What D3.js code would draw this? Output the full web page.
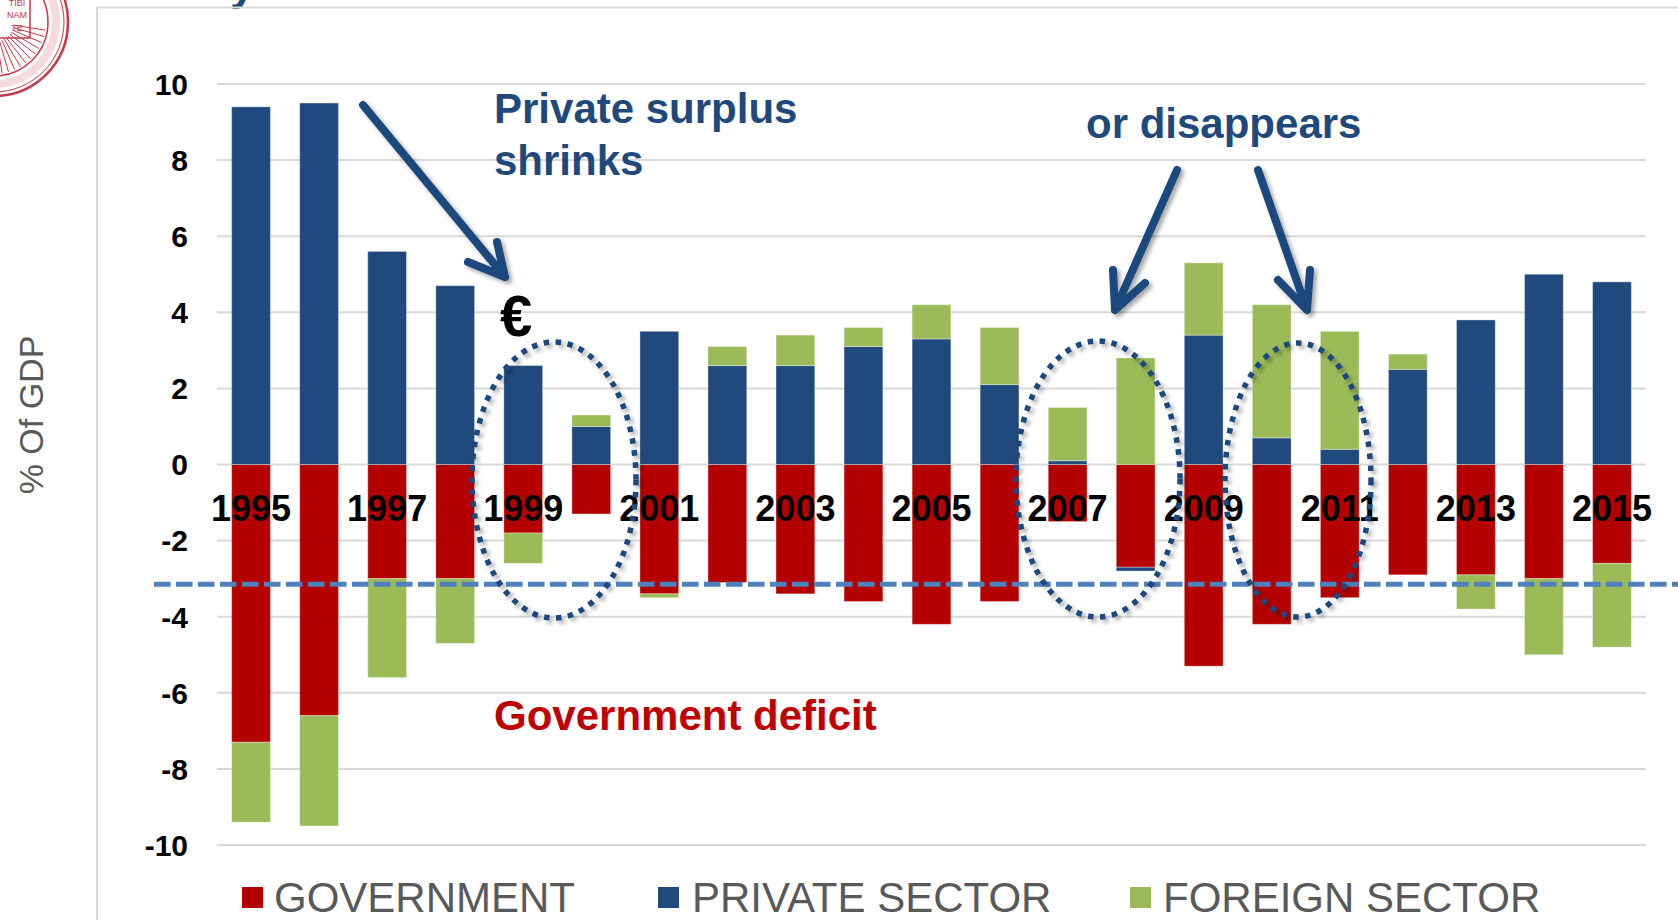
<!DOCTYPE html>
<html>
<head>
<meta charset="utf-8">
<script src="https://cdn.jsdelivr.net/npm/d3@7"></script>
<style>
  html, body { margin: 0; padding: 0; background: #fff; }
  svg { display: block; font-family: "Liberation Sans", Arial, sans-serif; }
</style>
</head>
<body>
<svg id="chart" width="1678" height="920"></svg>
<script>
// Sectoral balances, % of GDP
const years = d3.range(1995, 2016);
const government = [-7.3, -6.6, -3.0, -3.0, -1.8, -1.3, -3.4, -3.1, -3.4, -3.6, -4.2, -3.6, -1.5, -2.7, -5.3, -4.2, -3.5, -2.9, -2.9, -3.0, -2.6];
const privateSector = [9.4, 9.5, 5.6, 4.7, 2.6, 1.0, 3.5, 2.6, 2.6, 3.1, 3.3, 2.1, 0.1, -0.1, 3.4, 0.7, 0.4, 2.5, 3.8, 5.0, 4.8];
const foreignSector = [-2.1, -2.9, -2.6, -1.7, -0.8, 0.3, -0.1, 0.5, 0.8, 0.5, 0.9, 1.5, 1.4, 2.8, 1.9, 3.5, 3.1, 0.4, -0.9, -2.0, -2.2];
const yTicks = [-10, -8, -6, -4, -2, 0, 2, 4, 6, 8, 10];
const seriesNames = ['GOVERNMENT', 'PRIVATE SECTOR', 'FOREIGN SECTOR'];
const threshold = -3.15; // the dashed reference line

const colors = { gov: '#B50000', priv: '#204A7D', foreign: '#9BBB59' };
const annotBlue = '#1F497D';
const sealRed = '#c8374a';

const svg = d3.select('#chart');

const rows = years.map((y, i) => ({
  year: y, gov: government[i], priv: privateSector[i], foreign: foreignSector[i]
}));

const x = d3.scaleBand()
  .domain(years)
  .range([217, 1646])
  .paddingInner(0.43)
  .paddingOuter(0.215);

const y = d3.scaleLinear()
  .domain([-10, 10])
  .range([845, 84]);

// drop shadow for the hand-drawn marks
const defs = svg.append('defs');
const shadow = defs.append('filter').attr('id', 'shadow')
  .attr('x', '-20%').attr('y', '-20%').attr('width', '140%').attr('height', '140%');
shadow.append('feDropShadow')
  .attr('dx', 3).attr('dy', 3).attr('stdDeviation', 2)
  .attr('flood-color', '#000').attr('flood-opacity', 0.35);

// seal in the corner (partly cut off)
const seal = svg.append('g').attr('transform', 'translate(-6,22)')
  .attr('fill', 'none').attr('stroke', sealRed);
seal.append('circle').attr('r', 74).attr('stroke-width', 2.5);
seal.append('circle').attr('r', 70).attr('stroke-width', 1);
seal.append('circle').attr('r', 54).attr('stroke-width', 1.5);
seal.append('circle').attr('r', 62).attr('stroke-width', 8).attr('stroke-opacity', 0.18);
seal.append('rect').attr('x', -6).attr('y', -30).attr('width', 42).attr('height', 46).attr('stroke-width', 1.5);
d3.range(0, 12).forEach(i => {
  const a = Math.PI * (0.05 + i * 0.04);
  seal.append('line')
    .attr('x1', 20 * Math.cos(a)).attr('y1', 20 * Math.sin(a))
    .attr('x2', 52 * Math.cos(a)).attr('y2', 52 * Math.sin(a))
    .attr('stroke-width', 1);
});
svg.append('g')
  .selectAll('text').data([['TIBI', 6], ['NAM', 18], ['TE', 31]]).enter()
  .append('text')
  .attr('x', 17).attr('y', d => d[1]).attr('text-anchor', 'middle')
  .attr('font-size', 9).attr('fill', sealRed)
  .text(d => d[0]);

// cut-off title descender
svg.append('text')
  .attr('x', 230).attr('y', 0)
  .attr('font-size', 44).attr('font-weight', 'bold')
  .attr('fill', annotBlue)
  .text('y');

// plot area border (top and left)
svg.append('path')
  .attr('d', 'M97,920 V7.5 H1678')
  .attr('fill', 'none').attr('stroke', '#d9d9d9').attr('stroke-width', 2);

// gridlines
svg.append('g')
  .selectAll('line').data(yTicks).enter()
  .append('line')
  .attr('x1', 217).attr('x2', 1646)
  .attr('y1', d => y(d)).attr('y2', d => y(d))
  .attr('stroke', '#d9d9d9').attr('stroke-width', 2);

// y tick labels
svg.append('g')
  .selectAll('text').data(yTicks).enter()
  .append('text')
  .attr('x', 188).attr('y', d => y(d)).attr('dy', '0.36em')
  .attr('text-anchor', 'end')
  .attr('font-size', 30).attr('font-weight', 'bold').attr('fill', '#000')
  .text(d => d);

// y axis title
svg.append('text')
  .attr('transform', 'translate(43,415) rotate(-90)')
  .attr('text-anchor', 'middle')
  .attr('font-size', 34).attr('fill', '#595959')
  .text('% Of GDP');

// stacked bars
const stack = d3.stack()
  .keys(['gov', 'priv', 'foreign'])
  .offset(d3.stackOffsetDiverging);
const layers = stack(rows);

svg.append('g')
  .selectAll('g').data(layers).enter()
  .append('g')
  .attr('fill', d => colors[d.key])
  .selectAll('rect').data(d => d).enter()
  .append('rect')
  .attr('x', d => x(d.data.year))
  .attr('width', x.bandwidth())
  .attr('y', d => y(Math.max(d[0], d[1])))
  .attr('height', d => Math.abs(y(d[0]) - y(d[1])))
  .attr('stroke', '#fff').attr('stroke-opacity', 0.35).attr('stroke-width', 1);

// year labels on the zero line (every second year)
svg.append('g')
  .selectAll('text').data(years.filter(d => d % 2 === 1)).enter()
  .append('text')
  .attr('x', d => x(d) + x.bandwidth() / 2)
  .attr('y', 521)
  .attr('text-anchor', 'middle')
  .attr('font-size', 36).attr('font-weight', 'bold').attr('fill', '#000')
  .text(d => d);

// dashed reference line
svg.append('line')
  .attr('x1', 154).attr('x2', 1678)
  .attr('y1', y(threshold)).attr('y2', y(threshold))
  .attr('stroke', '#4F81BD').attr('stroke-width', 5)
  .attr('stroke-dasharray', '16.5 5.5');

// dotted ellipses
const ellipses = [[554, 480, 82, 138], [1098, 479, 82, 138], [1298, 480, 73, 137]];
svg.append('g').attr('filter', 'url(#shadow)')
  .selectAll('ellipse').data(ellipses).enter()
  .append('ellipse')
  .attr('cx', d => d[0]).attr('cy', d => d[1])
  .attr('rx', d => d[2]).attr('ry', d => d[3])
  .attr('fill', 'none').attr('stroke', annotBlue)
  .attr('stroke-width', 5.5).attr('stroke-dasharray', '5.5 6.5');

// arrows: [start, tip, arm1, arm2]
const arrows = [
  [[363, 105], [505, 277], [497, 242], [468, 262]],
  [[1177, 170], [1115, 310], [1113, 270], [1145, 283]],
  [[1258, 170], [1307, 310], [1278, 280], [1310, 270]]
];
svg.append('g').attr('filter', 'url(#shadow)')
  .selectAll('path').data(arrows).enter()
  .append('path')
  .attr('d', d => `M${d[0]}L${d[1]}M${d[2]}L${d[1]}L${d[3]}`)
  .attr('fill', 'none').attr('stroke', annotBlue)
  .attr('stroke-width', 8).attr('stroke-linecap', 'round').attr('stroke-linejoin', 'round');

// annotation texts
const annot = svg.append('g').attr('font-weight', 'bold').attr('font-size', 42);
annot.append('text').attr('x', 494).attr('y', 123).attr('fill', annotBlue).text('Private surplus');
annot.append('text').attr('x', 494).attr('y', 175).attr('fill', annotBlue).text('shrinks');
annot.append('text').attr('x', 1086).attr('y', 138).attr('fill', annotBlue).text('or disappears');
annot.append('text').attr('x', 494).attr('y', 730).attr('fill', '#C00000').text('Government deficit');
annot.append('text').attr('x', 500).attr('y', 336).attr('font-size', 58).attr('fill', '#000').text('€');

// legend
const legendX = [[242, 274], [658, 692], [1130, 1163]];
const legendColors = [colors.gov, colors.priv, colors.foreign];
const legend = svg.append('g')
  .selectAll('g').data(seriesNames).enter()
  .append('g');
legend.append('rect')
  .attr('x', (d, i) => legendX[i][0]).attr('y', 887)
  .attr('width', 21).attr('height', 21)
  .attr('fill', (d, i) => legendColors[i]);
legend.append('text')
  .attr('x', (d, i) => legendX[i][1]).attr('y', 912)
  .attr('font-size', 42).attr('fill', '#595959')
  .text(d => d);
</script>
</body>
</html>
